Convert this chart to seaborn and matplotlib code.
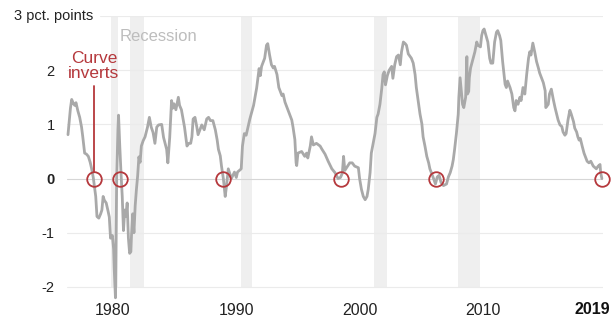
import matplotlib
matplotlib.use("Agg")
import matplotlib.pyplot as plt
import seaborn as sns
import pandas as pd

# 10-year minus 2-year Treasury spread (pct. points)
years = [
    1976.35, 1976.55, 1976.65, 1976.8, 1976.9, 1977.0, 1977.15, 1977.3, 1977.45, 1977.55,
    1977.7, 1977.85, 1978.0, 1978.15, 1978.27, 1978.4, 1978.5, 1978.6, 1978.7, 1978.85,
    1979.0, 1979.1, 1979.2, 1979.3, 1979.45, 1979.6, 1979.7, 1979.8, 1979.95, 1980.05,
    1980.1, 1980.2, 1980.3, 1980.4, 1980.45, 1980.55, 1980.65, 1980.75, 1980.85, 1980.95,
    1981.05, 1981.15, 1981.25, 1981.35, 1981.45, 1981.5, 1981.6, 1981.7, 1981.8, 1981.9,
    1982.0, 1982.1, 1982.2, 1982.3, 1982.45, 1982.6, 1982.8, 1982.95, 1983.1, 1983.25,
    1983.4, 1983.55, 1983.7, 1983.95, 1984.1, 1984.35, 1984.45, 1984.6, 1984.75, 1984.85,
    1984.95, 1985.1, 1985.3, 1985.4, 1985.55, 1985.8, 1986.0, 1986.15, 1986.3, 1986.4,
    1986.5, 1986.65, 1986.8, 1986.9, 1987.05, 1987.2, 1987.4, 1987.6, 1987.75, 1987.9,
    1988.1, 1988.3, 1988.45, 1988.55, 1988.7, 1988.8, 1988.95, 1989.1, 1989.2, 1989.35,
    1989.6, 1989.85, 1990.0, 1990.1, 1990.4, 1990.5, 1990.65, 1990.8, 1991.1, 1991.4,
    1991.65, 1991.85, 1991.95, 1992.05, 1992.3, 1992.45, 1992.55, 1992.7, 1992.85, 1993.0,
    1993.1, 1993.3, 1993.45, 1993.7, 1993.8, 1993.95, 1994.2, 1994.5, 1994.6, 1994.75,
    1994.85, 1994.9, 1995.0, 1995.3, 1995.55, 1995.7, 1995.8, 1996.0, 1996.1, 1996.25,
    1996.5, 1996.8, 1996.95, 1997.2, 1997.45, 1997.75, 1998.0, 1998.25, 1998.45, 1998.6,
    1998.7, 1998.8, 1999.0, 1999.2, 1999.4, 1999.6, 1999.9, 2000.0, 2000.15, 2000.3,
    2000.45, 2000.6, 2000.7, 2000.85, 2000.95, 2001.25, 2001.4, 2001.5, 2001.65, 2001.8,
    2001.9, 2002.0, 2002.1, 2002.25, 2002.4, 2002.6, 2002.7, 2002.85, 2003.0, 2003.15,
    2003.3, 2003.4, 2003.55, 2003.7, 2003.8, 2003.95, 2004.1, 2004.2, 2004.35, 2004.5,
    2004.6, 2004.75, 2004.9, 2005.05, 2005.15, 2005.3, 2005.45, 2005.6, 2005.7, 2005.85,
    2006.0, 2006.15, 2006.3, 2006.45, 2006.6, 2006.8, 2007.05, 2007.2, 2007.35, 2007.5,
    2007.6, 2007.7, 2007.85, 2008.0, 2008.05, 2008.15, 2008.25, 2008.35, 2008.45, 2008.6,
    2008.7, 2008.75, 2008.85, 2008.9, 2009.0, 2009.35, 2009.5, 2009.6, 2009.8, 2009.9,
    2010.0, 2010.1, 2010.25, 2010.4, 2010.55, 2010.65, 2010.8, 2010.95, 2011.1, 2011.2,
    2011.35, 2011.45, 2011.6, 2011.8, 2011.9, 2012.0, 2012.2, 2012.35, 2012.5, 2012.6,
    2012.7, 2012.85, 2013.0, 2013.1, 2013.25, 2013.4, 2013.55, 2013.7, 2013.8, 2013.9,
    2014.05, 2014.2, 2014.35, 2014.5, 2014.6, 2014.75, 2014.9, 2015.05, 2015.1, 2015.3,
    2015.4, 2015.55, 2015.7, 2015.85, 2016.1, 2016.25, 2016.4, 2016.5, 2016.65, 2016.75,
    2016.9, 2017.05, 2017.15, 2017.35, 2017.45, 2017.6, 2017.7, 2017.8, 2017.9, 2018.05,
    2018.2, 2018.3, 2018.45, 2018.6, 2018.75, 2018.95, 2019.1, 2019.2, 2019.35, 2019.5,
    2019.55, 2019.65,
]
spread = [
    0.81, 1.3, 1.46, 1.38, 1.35, 1.4, 1.25, 1.13, 0.95, 0.77,
    0.47, 0.45, 0.41, 0.3, 0.18, 0.02, -0.15, -0.33, -0.7, -0.73,
    -0.65, -0.58, -0.33, -0.4, -0.45, -0.6, -0.71, -1.1, -1.05, -1.3,
    -1.67, -2.2, 0.0, 0.9, 1.17, 0.6, 0.1, -0.33, -0.96, -0.58,
    -0.7, -0.45, -1.1, -1.38, -1.35, -1.05, -0.65, -1.0, -0.5, -0.2,
    0.05, 0.4, 0.3, 0.6, 0.7, 0.77, 0.95, 1.13, 0.95, 0.85,
    0.65, 0.95, 0.99, 1.0, 0.76, 0.54, 0.29, 0.76, 1.44, 1.3,
    1.38, 1.27, 1.5, 1.35, 1.27, 0.95, 0.6, 0.65, 0.65, 0.77,
    1.1, 1.13, 0.95, 0.81, 0.9, 0.99, 0.9, 1.1, 1.13, 1.07,
    1.07, 0.9, 0.71, 0.54, 0.42, 0.23, 0.0, -0.33, -0.15, 0.18,
    0.0, 0.12, 0.02, 0.12, 0.18, 0.6, 0.83, 0.8, 1.1, 1.35,
    1.67, 2.03, 1.9, 2.07, 2.22, 2.46, 2.49, 2.28, 2.1, 2.04,
    2.07, 1.92, 1.68, 1.53, 1.56, 1.41, 1.26, 1.08, 0.95, 0.72,
    0.29, 0.24, 0.47, 0.5, 0.41, 0.47, 0.38, 0.6, 0.77, 0.62,
    0.65, 0.6, 0.54, 0.45, 0.32, 0.18, 0.11, 0.0, 0.02, 0.1,
    0.41, 0.15, 0.22, 0.29, 0.29, 0.23, 0.2, 0.0, -0.2, -0.33,
    -0.39, -0.33, -0.2, 0.11, 0.47, 0.83, 1.13, 1.19, 1.37, 1.67,
    1.92, 1.97, 1.73, 1.9, 2.0, 2.07, 1.85, 2.1, 2.25, 2.28,
    2.1, 2.34, 2.52, 2.49, 2.46, 2.3, 2.25, 2.22, 2.13, 1.92,
    1.68, 1.44, 1.19, 1.01, 0.77, 0.6, 0.41, 0.29, 0.18, 0.09,
    0.0, -0.1, 0.03, 0.06, -0.07, -0.13, -0.1, 0.03, 0.11, 0.23,
    0.35, 0.53, 0.83, 1.19, 1.5, 1.86, 1.61, 1.37, 1.31, 1.5,
    2.25, 1.56, 1.61, 1.86, 2.04, 2.34, 2.52, 2.46, 2.43, 2.64,
    2.73, 2.76, 2.64, 2.52, 2.22, 2.13, 2.13, 2.52, 2.7, 2.73,
    2.64, 2.55, 2.16, 1.74, 1.68, 1.8, 1.68, 1.56, 1.31, 1.25,
    1.44, 1.37, 1.5, 1.44, 1.68, 1.56, 1.92, 2.22, 2.34, 2.28,
    2.5, 2.34, 2.16, 2.04, 1.95, 1.86, 1.77, 1.62, 1.31, 1.37,
    1.56, 1.65, 1.47, 1.31, 1.08, 0.99, 0.96, 0.86, 0.8, 0.83,
    1.08, 1.26, 1.2, 1.05, 0.93, 0.86, 0.77, 0.71, 0.74, 0.6,
    0.47, 0.41, 0.32, 0.29, 0.32, 0.23, 0.2, 0.18, 0.23, 0.26,
    0.11, 0.0,
]

# recession periods (start, end)
recession_start = [1979.85, 1981.4, 1990.4, 2001.15, 2007.95]
recession_end = [1980.4, 1982.55, 1991.3, 2002.2, 2009.75]

# points where the curve inverts
inversion_years = [1978.45, 1980.57, 1988.92, 1998.5, 2006.2, 2019.66]

ytick_values = [-2, -1, 0, 1, 2]
xtick_major = [1980, 1990, 2000, 2010]
xtick_minor = [1985, 1995, 2005, 2015]

df = pd.DataFrame({"year": years, "spread": spread})

LINE = "#a9a9a9"
RED = "#b5383c"
BAND = "#efefef"
GRID = "#ebebeb"

sns.set_theme(style="white")
plt.rcParams["font.family"] = ["Liberation Sans", "DejaVu Sans"]

W, H = 611, 320
fig = plt.figure(figsize=(W / 100, H / 100), dpi=100)
ax = fig.add_axes([67 / W, 1 - 300.5 / H, (603 - 67) / W, (300.5 - 16) / H])

ymin, ymax = -2.25, 3.0
ax.set_ylim(ymin, ymax)
ax.set_xlim(1976.27, 2019.74)

# recession bands from -2 up to 3
band_lo = (-2 - ymin) / (ymax - ymin)
for a, b in zip(recession_start, recession_end):
    ax.axvspan(a, b, ymin=band_lo, ymax=1, color=BAND, lw=0, zorder=0)

# gridlines
for v in ytick_values:
    ax.axhline(v, color="#d6d6d6" if v == 0 else GRID, lw=0.8, zorder=0.5)
ax.axhline(3, xmin=(100 - 67) / (603 - 67), color=GRID, lw=0.8, zorder=0.5)

sns.lineplot(data=df, x="year", y="spread", sort=False, estimator=None,
             color=LINE, lw=2.0, ax=ax, zorder=2, clip_on=False)

ax.plot(inversion_years, [0] * len(inversion_years), "o", ms=10.5, mfc="none",
        mec=RED, mew=1.3, clip_on=False, zorder=3)

# annotation
ax.plot([inversion_years[0]] * 2, [0.13, 1.7], color=RED, lw=1.3, zorder=3)
ax.text(inversion_years[0], 2.08, "Curve\ninverts", color=RED, fontsize=12.5,
        ha="center", va="center", linespacing=0.95)
ax.text(1980.55, 2.63, "Recession", color="#bdbdbd", fontsize=12,
        ha="left", va="center")

# axes styling
for s in ax.spines.values():
    s.set_visible(False)
ax.set_xlabel("")
ax.set_ylabel("")

ax.set_yticks(ytick_values)
ax.set_yticklabels([str(v) for v in ytick_values])
for lab, v in zip(ax.get_yticklabels(), ytick_values):
    if v == 0:
        lab.set_fontweight("bold")
ax.tick_params(axis="y", length=0, pad=9, labelsize=10.5, labelcolor="#222222")

ax.set_xticks(xtick_major)
ax.set_xticklabels([str(v) for v in xtick_major])
ax.set_xticks(xtick_minor, minor=True)
ax.tick_params(axis="x", which="both", direction="in", length=4, width=0.8,
               color="#d4d4d4", pad=1.5, labelsize=11.5, labelcolor="#222222")

fig.text(610 / W, 1 - 309.5 / H, "2019", fontsize=11.5, fontweight="bold",
         color="#111111", ha="right", va="center")
fig.text(14 / W, 1 - 16 / H, "3 pct. points", fontsize=10.5, color="#222222",
         ha="left", va="center")

fig.savefig("out.png", dpi=100)
